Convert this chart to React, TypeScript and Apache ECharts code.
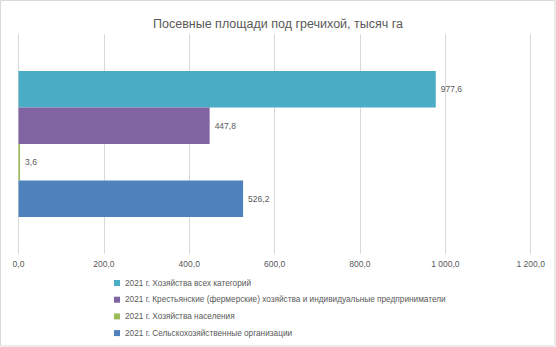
import React, { useEffect, useRef } from "react";
import * as echarts from "echarts";

const title = "Посевные площади под гречихой, тысяч га";
const categories = [""];
// Series listed top-to-bottom as they appear in the chart and legend
const seriesNames = [
  "2021 г. Хозяйства всех категорий",
  "2021 г. Крестьянские (фермерские) хозяйства и индивидуальные предприниматели",
  "2021 г. Хозяйства населения",
  "2021 г. Сельскохозяйственные организации",
];
const seriesValues = [[977.6], [447.8], [3.6], [526.2]];
const seriesColors = ["#4bacc6", "#8064a2", "#9bbb59", "#4f81bd"];
const axisMin = 0;
const axisMax = 1200;
const axisInterval = 200;

const fmt = (v: number) => {
  const [i, d] = v.toFixed(1).split(".");
  const ii = i.replace(/\B(?=(\d{3})+(?!\d))/g, " ");
  return ii + "," + d;
};

const FONT = "'Liberation Sans', 'Noto Sans', sans-serif";
const GREY = "#595959";

export default function App() {
  const ref = useRef<HTMLDivElement>(null);
  useEffect(() => {
    if (!ref.current) return;
    const chart = echarts.init(ref.current, undefined, { renderer: "svg" });
    chart.setOption({
      animation: false,
      backgroundColor: "#ffffff",
      title: {
        text: title,
        left: "center",
        top: 12,
        textStyle: { fontFamily: FONT, fontSize: 12.5, fontWeight: "normal", color: GREY },
      },
      graphic: [
        {
          type: "rect",
          shape: { x: 0.5, y: 0.5, width: 554.5, height: 345.5 },
          style: { fill: "none", stroke: "#d9d9d9", lineWidth: 1 },
          silent: true,
        },
      ],
      grid: { left: 18.5, right: 25.3, top: 34, bottom: 93 },
      legend: {
        data: seriesNames,
        orient: "vertical",
        left: 114,
        top: 277,
        height: 80,
        padding: 0,
        itemWidth: 6,
        itemHeight: 6,
        itemGap: 4.7,
        icon: "rect",
        textStyle: { fontFamily: FONT, fontSize: 8.25, color: GREY, lineHeight: 12 },
      },
      xAxis: {
        type: "value",
        min: axisMin,
        max: axisMax,
        interval: axisInterval,
        axisLine: { show: false },
        axisTick: { show: false },
        splitLine: { show: true, lineStyle: { color: "#d9d9d9", width: 1 } },
        axisLabel: {
          formatter: (v: number) => fmt(v),
          fontFamily: FONT,
          fontSize: 8.5,
          color: GREY,
          margin: 5,
        },
      },
      yAxis: {
        type: "category",
        data: categories,
        axisLine: { show: false },
        axisTick: { show: false },
        axisLabel: { show: false },
      },
      series: seriesNames.map((name, i) => ({
        name,
        type: "bar",
        data: seriesValues[i],
        barGap: "0%",
        barCategoryGap: "33.6%",
        itemStyle: { color: seriesColors[i] },
        label: {
          show: true,
          position: "right",
          distance: 5,
          formatter: (p: any) => fmt(p.value),
          fontFamily: FONT,
          fontSize: 8.5,
          color: GREY,
        },
      })),
    });
    return () => chart.dispose();
  }, []);
  return (
    <div
      ref={ref}
      style={{ position: "fixed", left: 0, top: 0, width: 556, height: 347 }}
    />
  );
}
